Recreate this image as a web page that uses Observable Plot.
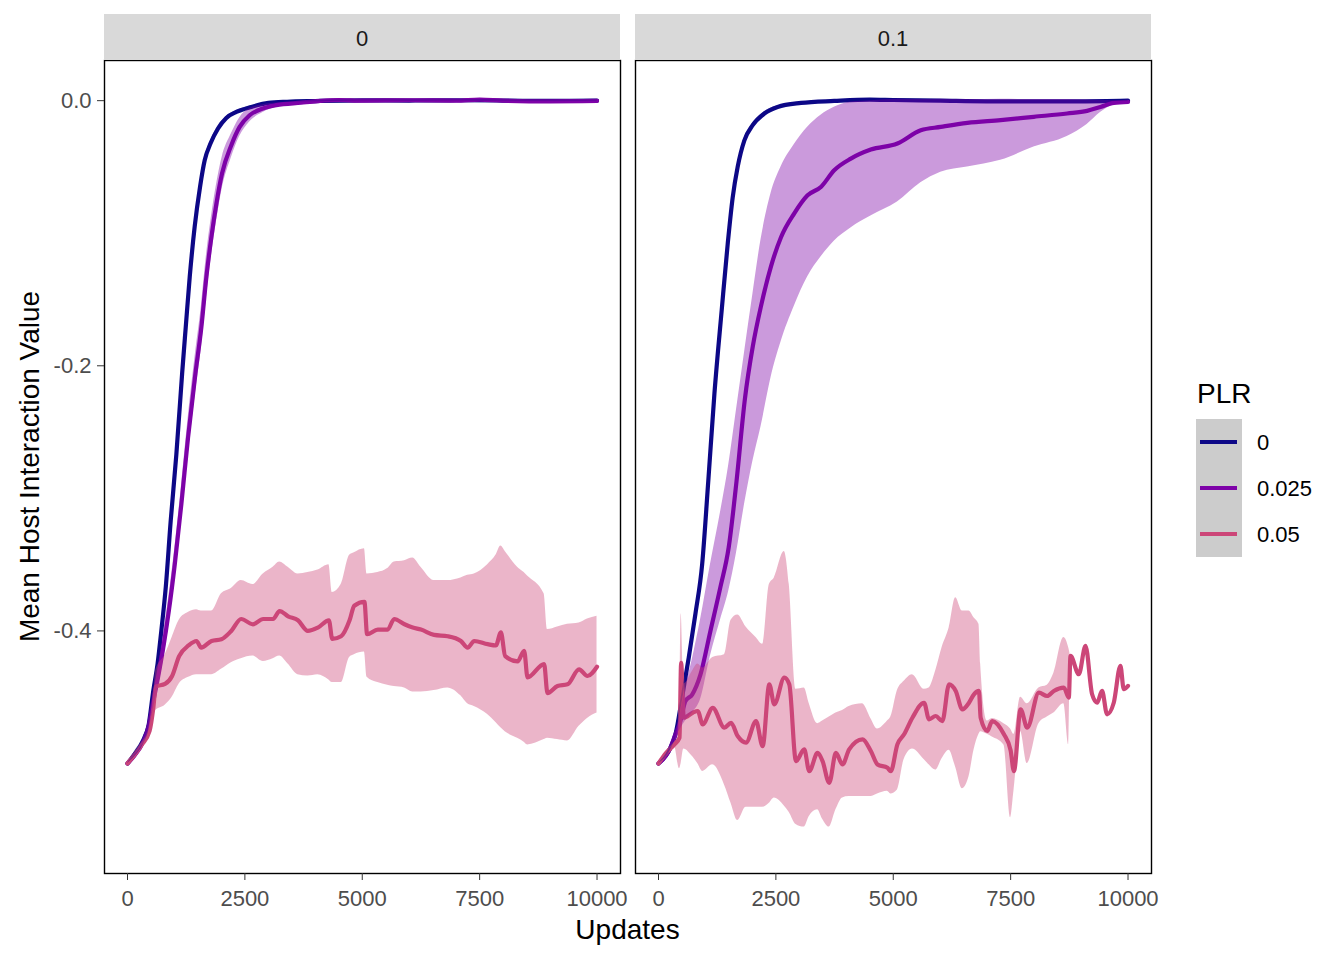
<!DOCTYPE html>
<html><head><meta charset="utf-8">
<script src="https://cdn.jsdelivr.net/npm/d3@7"></script>
<script src="https://cdn.jsdelivr.net/npm/@observablehq/plot@0.6"></script>
<style>
html,body{margin:0;padding:0;background:#fff;overflow:hidden;}
#chart{position:relative;width:1344px;height:960px;}
</style></head><body>
<div id="chart"></div>
<script>
// ---- categories / labels ----
const facets = ["0", "0.1"];
const plrLevels = ["0", "0.025", "0.05"];
const plrColors = ["#0D0887", "#7E03A8", "#CC4678"];
const xTicks = [0, 2500, 5000, 7500, 10000];
const yTicks = [-0.4, -0.2, 0.0];
const xTitle = "Updates";
const yTitle = "Mean Host Interaction Value";
const legendTitle = "PLR";

// ---- facet "0", PLR 0 ----
const f0_plr0_x = [0,150,330,450,550,640,720,815,920,1040,1163,1240,1325,1431,1545,1644,1772,1929,2105,2318,2637,3000,3400,4000,5000,6000,7000,8000,9000,10000];
const f0_plr0_mean = [-0.5,-0.493,-0.483,-0.471,-0.445,-0.425,-0.4,-0.367,-0.317,-0.267,-0.206,-0.171,-0.133,-0.095,-0.065,-0.045,-0.032,-0.021,-0.013,-0.0085,-0.0047,-0.0017,-0.0008,-0.0003,0.0002,0.0001,0.0003,0.0001,-0.0002,0.0];
const f0_plr0_lo = [-0.5,-0.495,-0.486,-0.475,-0.449,-0.429,-0.404,-0.371,-0.321,-0.271,-0.21,-0.175,-0.137,-0.098,-0.068,-0.047,-0.034,-0.023,-0.014,-0.0095,-0.0055,-0.0023,-0.0013,-0.0008,-0.0003,-0.0004,-0.0002,-0.0004,-0.0007,-0.0005];
const f0_plr0_hi = [-0.5,-0.491,-0.48,-0.467,-0.441,-0.421,-0.396,-0.363,-0.313,-0.263,-0.202,-0.167,-0.129,-0.092,-0.062,-0.043,-0.03,-0.019,-0.012,-0.0075,-0.0039,-0.0011,-0.0003,0.0002,0.0007,0.0006,0.0008,0.0006,0.0003,0.0005];

// ---- facet "0", PLR 0.025 ----
const f0_plr025_x = [0,150,330,450,550,650,760,880,1006,1148,1290,1446,1573,1680,1786,1892,2013,2211,2388,2601,2885,3168,3700,4055,4500,5000,6000,7000,7500,8000,9000,10000];
const f0_plr025_mean = [-0.5,-0.494,-0.484,-0.472,-0.453,-0.435,-0.413,-0.385,-0.35,-0.304,-0.254,-0.206,-0.171,-0.133,-0.103,-0.078,-0.055,-0.0336,-0.0198,-0.011,-0.0059,-0.0034,-0.0015,-0.0003,0.0005,0.0,0.0003,0.0,0.0008,0.0,-0.0005,-0.0002];
const f0_plr025_lo = [-0.5,-0.495,-0.486,-0.476,-0.459,-0.443,-0.423,-0.396,-0.362,-0.317,-0.268,-0.221,-0.187,-0.149,-0.118,-0.092,-0.067,-0.043,-0.027,-0.016,-0.009,-0.005,-0.0025,-0.001,-0.0003,-0.0008,-0.0005,-0.0008,0.0,-0.0008,-0.0013,-0.001];
const f0_plr025_hi = [-0.5,-0.493,-0.482,-0.468,-0.447,-0.427,-0.403,-0.374,-0.338,-0.291,-0.24,-0.191,-0.155,-0.117,-0.088,-0.064,-0.043,-0.025,-0.013,-0.006,-0.003,-0.0018,-0.0005,0.0005,0.0013,0.0008,0.0011,0.0008,0.0016,0.0008,0.0003,0.0006];

// ---- facet "0", PLR 0.05 ----
const f0_plr05_x = [0,300,470,550,600,800,950,1100,1300,1470,1570,1790,2000,2210,2420,2670,2890,3100,3240,3420,3630,3840,4055,4290,4360,4550,4730,4830,5046,5103,5330,5540,5680,5900,6075,6250,6530,6820,7100,7244,7385,7670,7846,7952,8044,8307,8448,8520,8873,8945,9158,9371,9617,9796,10000];
const f0_plr05_mean = [-0.5,-0.486,-0.4755,-0.458,-0.442,-0.44,-0.434,-0.419,-0.411,-0.4076,-0.4126,-0.4076,-0.4063,-0.4,-0.391,-0.395,-0.391,-0.391,-0.385,-0.389,-0.392,-0.4,-0.3975,-0.392,-0.406,-0.404,-0.392,-0.381,-0.378,-0.4025,-0.399,-0.399,-0.391,-0.395,-0.3975,-0.399,-0.403,-0.404,-0.4076,-0.4126,-0.4076,-0.41,-0.411,-0.401,-0.419,-0.423,-0.415,-0.435,-0.425,-0.447,-0.4416,-0.4403,-0.429,-0.434,-0.427];
const f0_plr05_lo = [-0.5,-0.487,-0.477,-0.462,-0.46,-0.456,-0.45,-0.44,-0.435,-0.433,-0.433,-0.433,-0.429,-0.424,-0.421,-0.419,-0.423,-0.421,-0.419,-0.425,-0.433,-0.434,-0.433,-0.437,-0.439,-0.439,-0.42,-0.418,-0.416,-0.435,-0.439,-0.441,-0.442,-0.443,-0.446,-0.446,-0.445,-0.443,-0.449,-0.455,-0.457,-0.463,-0.469,-0.473,-0.476,-0.481,-0.484,-0.486,-0.482,-0.481,-0.482,-0.483,-0.472,-0.466,-0.462];
const f0_plr05_hi = [-0.5,-0.485,-0.474,-0.455,-0.43,-0.418,-0.405,-0.392,-0.386,-0.384,-0.385,-0.385,-0.372,-0.368,-0.362,-0.365,-0.357,-0.352,-0.348,-0.352,-0.357,-0.356,-0.354,-0.35,-0.371,-0.365,-0.343,-0.341,-0.338,-0.357,-0.356,-0.353,-0.348,-0.347,-0.345,-0.352,-0.362,-0.362,-0.36,-0.358,-0.357,-0.35,-0.343,-0.336,-0.34,-0.352,-0.356,-0.3585,-0.372,-0.399,-0.397,-0.395,-0.394,-0.391,-0.389];

// ---- facet "0.1", PLR 0 ----
const f1_plr0_x = [0,255,361,503,645,787,929,1060,1191,1346,1474,1580,1686,1829,2006,2254,2537,3034,3743,4500,5000,6000,7000,8000,9000,10000];
const f1_plr0_mean = [-0.5,-0.488,-0.478,-0.45,-0.42,-0.387,-0.35,-0.287,-0.221,-0.158,-0.108,-0.073,-0.05,-0.03,-0.0185,-0.0097,-0.0047,-0.0017,-0.0002,0.0008,0.0005,0.0,-0.0005,-0.0005,-0.0005,0.0];
const f1_plr0_lo = [-0.5,-0.49,-0.481,-0.454,-0.424,-0.391,-0.354,-0.291,-0.225,-0.162,-0.111,-0.076,-0.052,-0.032,-0.02,-0.011,-0.0055,-0.0023,-0.0008,0.0002,-0.0001,-0.0006,-0.0011,-0.0011,-0.0011,-0.0005];
const f1_plr0_hi = [-0.5,-0.486,-0.475,-0.446,-0.416,-0.383,-0.346,-0.283,-0.217,-0.154,-0.105,-0.07,-0.048,-0.028,-0.017,-0.0084,-0.0039,-0.0011,0.0004,0.0014,0.0011,0.0006,0.0001,0.0001,0.0001,0.0005];

// ---- facet "0.1", PLR 0.025 ----
const f1_plr025_x = [0,255,361,450,574,717,893,1106,1318,1495,1662,1840,2010,2183,2396,2609,2892,3175,3459,3742,4097,4522,5088,5586,6011,6578,7286,7994,8703,9128,9412,9696,10000];
const f1_plr025_mean = [-0.5,-0.488,-0.478,-0.47,-0.453,-0.448,-0.433,-0.4,-0.367,-0.337,-0.287,-0.225,-0.185,-0.155,-0.125,-0.103,-0.085,-0.0714,-0.0651,-0.0525,-0.0437,-0.0369,-0.0323,-0.0223,-0.0198,-0.0168,-0.0147,-0.0122,-0.0097,-0.0077,-0.0047,-0.0017,-0.0009];
const f1_plr025_lo = [-0.5,-0.489,-0.48,-0.475,-0.468,-0.462,-0.452,-0.419,-0.392,-0.37,-0.341,-0.303,-0.272,-0.246,-0.209,-0.182,-0.155,-0.133,-0.118,-0.106,-0.096,-0.087,-0.0765,-0.062,-0.054,-0.05,-0.045,-0.035,-0.027,-0.018,-0.009,-0.003,-0.001];
const f1_plr025_hi = [-0.5,-0.487,-0.476,-0.465,-0.443,-0.422,-0.392,-0.35,-0.311,-0.275,-0.233,-0.188,-0.146,-0.105,-0.07,-0.05,-0.033,-0.02,-0.011,-0.005,-0.001,0.0,0.001,0.0008,0.001,0.0008,0.001,0.0008,0.0008,0.0005,0.0003,0.0,-0.0005];

// ---- facet "0.1", PLR 0.05 ----
const f1_plr05_x = [0,163,340,447,482,538,729,835,942,1155,1403,1545,1686,1864,2077,2218,2360,2466,2679,2785,2928,3104,3211,3388,3494,3636,3778,3919,4061,4345,4522,4664,4876,4947,5088,5231,5408,5656,5762,5904,6045,6188,6330,6471,6613,6719,6825,6861,7002,7108,7357,7499,7570,7712,7853,8101,8278,8420,8633,8739,8775,8952,9094,9235,9341,9447,9554,9696,9838,9909,10000];
const f1_plr05_mean = [-0.5,-0.492,-0.4856,-0.4806,-0.424,-0.4655,-0.4617,-0.4604,-0.4705,-0.458,-0.473,-0.4693,-0.4793,-0.4843,-0.468,-0.4869,-0.4403,-0.4554,-0.4353,-0.4403,-0.4982,-0.4894,-0.5058,-0.492,-0.4982,-0.5146,-0.492,-0.5007,-0.4894,-0.4818,-0.4906,-0.5007,-0.5033,-0.5058,-0.4856,-0.478,-0.4655,-0.4542,-0.4667,-0.4642,-0.468,-0.4403,-0.4453,-0.4592,-0.4542,-0.4478,-0.4453,-0.4655,-0.4755,-0.468,-0.478,-0.49,-0.5058,-0.4592,-0.473,-0.4466,-0.4491,-0.4453,-0.4428,-0.4504,-0.4189,-0.4327,-0.4113,-0.4478,-0.4542,-0.4453,-0.4629,-0.4542,-0.4264,-0.444,-0.4415];
const f1_plr05_lo = [-0.5,-0.492,-0.487,-0.504,-0.5,-0.489,-0.495,-0.5,-0.506,-0.501,-0.516,-0.53,-0.543,-0.533,-0.533,-0.533,-0.53,-0.526,-0.532,-0.537,-0.546,-0.548,-0.54,-0.535,-0.542,-0.548,-0.535,-0.526,-0.525,-0.525,-0.525,-0.523,-0.521,-0.523,-0.52,-0.497,-0.489,-0.497,-0.501,-0.505,-0.496,-0.49,-0.503,-0.519,-0.51,-0.49,-0.478,-0.476,-0.478,-0.48,-0.486,-0.541,-0.521,-0.476,-0.5,-0.47,-0.465,-0.462,-0.455,-0.486,-0.4189,-0.4327,-0.4113,-0.4478,-0.4542,-0.4453,-0.4629,-0.4542,-0.4264,-0.444,-0.4415];
const f1_plr05_hi = [-0.5,-0.492,-0.484,-0.478,-0.387,-0.44,-0.43,-0.425,-0.428,-0.42,-0.418,-0.392,-0.388,-0.397,-0.405,-0.41,-0.365,-0.36,-0.34,-0.365,-0.444,-0.443,-0.455,-0.47,-0.468,-0.465,-0.462,-0.46,-0.457,-0.455,-0.466,-0.474,-0.468,-0.465,-0.445,-0.438,-0.433,-0.444,-0.443,-0.43,-0.412,-0.398,-0.375,-0.385,-0.385,-0.39,-0.395,-0.425,-0.468,-0.466,-0.47,-0.474,-0.478,-0.45,-0.455,-0.443,-0.441,-0.432,-0.405,-0.413,-0.4189,-0.4327,-0.4113,-0.4478,-0.4542,-0.4453,-0.4629,-0.4542,-0.4264,-0.444,-0.4415];

// ---- assemble rows ----
const series = [
  {facet: facets[0], plr: plrLevels[0], x: f0_plr0_x, mean: f0_plr0_mean, lo: f0_plr0_lo, hi: f0_plr0_hi},
  {facet: facets[0], plr: plrLevels[1], x: f0_plr025_x, mean: f0_plr025_mean, lo: f0_plr025_lo, hi: f0_plr025_hi},
  {facet: facets[0], plr: plrLevels[2], x: f0_plr05_x, mean: f0_plr05_mean, lo: f0_plr05_lo, hi: f0_plr05_hi},
  {facet: facets[1], plr: plrLevels[0], x: f1_plr0_x, mean: f1_plr0_mean, lo: f1_plr0_lo, hi: f1_plr0_hi},
  {facet: facets[1], plr: plrLevels[1], x: f1_plr025_x, mean: f1_plr025_mean, lo: f1_plr025_lo, hi: f1_plr025_hi},
  {facet: facets[1], plr: plrLevels[2], x: f1_plr05_x, mean: f1_plr05_mean, lo: f1_plr05_lo, hi: f1_plr05_hi}
];
const rows = series.flatMap(s => s.x.map((x, i) => ({facet: s.facet, plr: s.plr, x, mean: s.mean[i], lo: s.lo[i], hi: s.hi[i]})));

const FONT = "'Liberation Sans', Arial, sans-serif";
const marginTop = 60, marginBottom = 87, marginLeft = 103, marginRight = 192;

const chart = Plot.plot({
  width: 1344,
  height: 960,
  marginTop, marginBottom, marginLeft, marginRight,
  style: {fontFamily: FONT, fontSize: "22px", color: "#4D4D4D", background: "#ffffff", overflow: "visible"},
  fx: {domain: facets, padding: 0.0275, axis: null, label: null},
  x: {domain: [-490, 10500], label: null},
  y: {domain: [-0.583, 0.0303], label: null},
  color: {domain: plrLevels, range: plrColors},
  marks: [
    Plot.line(rows, {fx: "facet", x: "x", y: "mean", z: "plr", stroke: "plr", strokeWidth: 4.2, curve: "monotone-x"}),
    Plot.areaY(rows, {fx: "facet", x: "x", y1: "lo", y2: "hi", z: "plr", fill: "plr", fillOpacity: 0.4, curve: "monotone-x"}),
    Plot.frame({stroke: "#000000", strokeWidth: 1.4}),
    Plot.axisX({ticks: xTicks, tickFormat: d => String(d), tickSize: 7, tickPadding: 10, stroke: "#333333", fill: "#4D4D4D", label: null}),
    Plot.axisY({ticks: yTicks, tickFormat: d => d.toFixed(1), tickSize: 7, tickPadding: 6, stroke: "#333333", fill: "#4D4D4D", label: null})
  ]
});
document.getElementById("chart").appendChild(chart);

// ---- strips, titles and legend ----
const svg = d3.select(chart);
const fxScale = chart.scale("fx");
const bw = fxScale.bandwidth;
const stripH = 46;
facets.forEach(f => {
  const x0 = fxScale.apply(f);
  const g = svg.append("g");
  g.append("rect").attr("x", x0).attr("y", marginTop - stripH).attr("width", bw).attr("height", stripH).attr("fill", "#D9D9D9");
  g.append("text").attr("x", x0 + bw / 2).attr("y", marginTop - stripH / 2 + 9)
    .attr("text-anchor", "middle").attr("fill", "#1A1A1A").style("font-size", "22px").style("font-family", FONT).text(f);
});
const x0a = fxScale.apply(facets[0]);
const x1b = fxScale.apply(facets[facets.length - 1]) + bw;
svg.append("text").attr("x", (x0a + x1b) / 2).attr("y", 939).attr("text-anchor", "middle")
  .attr("fill", "#000").style("font-size", "28px").style("font-family", FONT).text(xTitle);
svg.append("text").attr("transform", `translate(39,${(marginTop + 960 - marginBottom) / 2}) rotate(-90)`)
  .attr("text-anchor", "middle").attr("fill", "#000").style("font-size", "28px").style("font-family", FONT).text(yTitle);

const lg = svg.append("g").attr("text-anchor", "start");
lg.append("text").attr("x", 1197).attr("y", 403).attr("text-anchor", "start").attr("fill", "#000").style("font-size", "28px").style("font-family", FONT).text(legendTitle);
lg.append("rect").attr("x", 1196).attr("y", 419).attr("width", 46).attr("height", 138).attr("fill", "#CCCCCC");
plrLevels.forEach((p, i) => {
  const cy = 442 + i * 46;
  lg.append("line").attr("x1", 1200).attr("x2", 1237).attr("y1", cy).attr("y2", cy)
    .attr("stroke", plrColors[i]).attr("stroke-width", 4);
  lg.append("text").attr("x", 1257).attr("y", cy + 8).attr("text-anchor", "start").attr("fill", "#000").style("font-size", "22px").style("font-family", FONT).text(p);
});
</script>
</body></html>
